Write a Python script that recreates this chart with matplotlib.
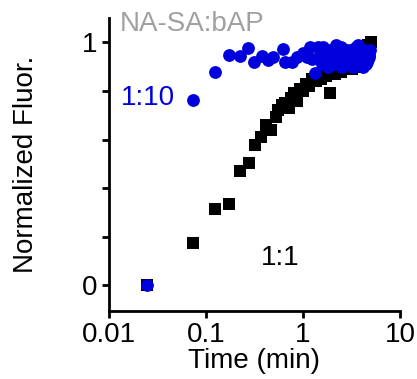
import matplotlib
matplotlib.use("Agg")
import matplotlib.pyplot as plt
from matplotlib.ticker import FixedLocator, FixedFormatter

plt.rcParams['font.family'] = ['Liberation Sans', 'DejaVu Sans']

# 1:1 ratio (black squares)
t_11 = [0.025, 0.074, 0.124, 0.174, 0.224, 0.278, 0.322, 0.372, 0.415, 0.468,
        0.523, 0.56, 0.608, 0.66, 0.712, 0.76, 0.81, 0.87, 0.93, 1.0, 1.08,
        1.16, 1.25, 1.35, 1.45, 1.55, 1.65, 1.75, 1.9, 2.0, 2.15, 2.3, 2.45,
        2.6, 2.8, 3.0, 3.2, 3.4, 3.6, 3.8, 4.0, 4.2, 4.45, 4.7, 5.0]
f_11 = [0.0, 0.172, 0.315, 0.334, 0.470, 0.503, 0.576, 0.610, 0.661, 0.639,
        0.694, 0.72, 0.742, 0.75, 0.729, 0.77, 0.79, 0.76, 0.81, 0.80, 0.83,
        0.82, 0.85, 0.84, 0.86, 0.85, 0.87, 0.86, 0.79, 0.88, 0.87, 0.89, 0.88,
        0.90, 0.89, 0.90, 0.89, 0.91, 0.90, 0.92, 0.93, 0.96, 0.98, 0.99, 1.0]

# 1:10 ratio (blue circles)
t_110 = [0.025, 0.074, 0.124, 0.174, 0.224, 0.273, 0.315, 0.375, 0.439, 0.494,
         0.618, 0.652, 0.765, 0.861, 1.007, 1.10, 1.18, 1.25, 1.33, 1.43, 1.5,
         1.58, 1.65, 1.72, 1.8, 1.88, 1.95, 2.05, 2.15, 2.25, 2.35, 2.45, 2.55,
         2.65, 2.75, 2.85, 2.95, 3.05, 3.15, 3.25, 3.35, 3.45, 3.55, 3.65, 3.75,
         3.85, 3.95, 4.05, 4.15, 4.25, 4.35, 4.45, 4.55, 4.65, 4.75, 4.85,
         1.62, 1.9, 2.2, 2.5, 2.8, 3.1, 3.4, 3.7, 4.0, 4.3, 4.6, 4.9]
f_110 = [0.0, 0.763, 0.880, 0.948, 0.944, 0.976, 0.918, 0.944, 0.928, 0.941,
         0.972, 0.921, 0.921, 0.941, 0.955, 0.94, 0.983, 0.93, 0.873, 0.982, 0.95,
         0.91, 0.96, 0.94, 0.90, 0.97, 0.93, 0.95, 0.91, 0.96, 0.94, 0.98, 0.90,
         0.95, 0.93, 0.97, 0.91, 0.94, 0.96, 0.90, 0.95, 0.93, 0.98, 0.91, 0.94,
         0.96, 0.92, 0.95, 0.90, 0.97, 0.94, 0.91, 0.96, 0.93, 0.95, 0.94,
         0.98, 0.92, 0.99, 0.92, 0.95, 0.97, 0.92, 0.99, 0.93, 0.96, 0.92, 0.97]

blue = '#0000dd'

fig = plt.figure(figsize=(4.17, 3.79), dpi=100)
ax = fig.add_axes([0.261, 0.179, 0.698, 0.773])

ax.scatter(t_11, f_11, marker='s', s=78, color='black', linewidths=0, zorder=2)
ax.scatter(t_110, f_110, marker='o', s=85, color=blue, linewidths=0, zorder=3)

ax.set_xscale('log')
ax.set_xlim(0.01, 10)
ax.set_ylim(-0.107, 1.10)
ax.xaxis.set_major_locator(FixedLocator([0.01, 0.1, 1, 10]))
ax.xaxis.set_major_formatter(FixedFormatter(['0.01', '0.1', '1', '10']))
ax.xaxis.set_minor_locator(FixedLocator([]))
ax.set_yticks([0, 0.2, 0.4, 0.6, 0.8, 1.0])
ax.set_yticklabels(['0', '', '', '', '', '1'])

for side in ['top', 'right']:
    ax.spines[side].set_visible(False)
for side in ['left', 'bottom']:
    ax.spines[side].set_linewidth(2)
ax.tick_params(width=2, length=5, labelsize=20, pad=3)

ax.set_xlabel('Time (min)', fontsize=20, labelpad=0)
ax.set_ylabel('Normalized Fluor.', fontsize=20, labelpad=31)

ax.text(0.038, 0.98, 'NA-SA:bAP', transform=ax.transAxes, fontsize=20,
        color='#a0a0a0', ha='left', va='center')
ax.text(0.040, 0.727, '1:10', transform=ax.transAxes, fontsize=20,
        color=blue, ha='left', va='center')
ax.text(0.59, 0.181, '1:1', transform=ax.transAxes, fontsize=20,
        color='black', ha='center', va='center')

fig.savefig('out.png', dpi=100)
